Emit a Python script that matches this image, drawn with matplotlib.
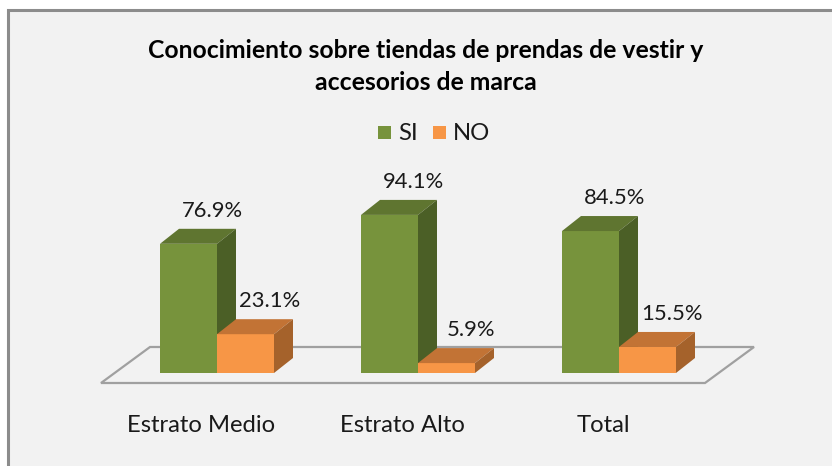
import matplotlib
matplotlib.use("Agg")
import matplotlib.pyplot as plt
from matplotlib.patches import Polygon, Rectangle

# ---------------- data ----------------
title_lines = ["Conocimiento sobre tiendas de prendas de vestir y", "accesorios de marca"]
categories = ["Estrato Medio", "Estrato Alto", "Total"]
series_names = ["SI", "NO"]
si_values = [76.9, 94.1, 84.5]
no_values = [23.1, 5.9, 15.5]
si_labels = ["76.9%", "94.1%", "84.5%"]
no_labels = ["23.1%", "5.9%", "15.5%"]

# ---------------- style ----------------
W, H = 832, 466
DPI = 100
PX_X = 201.0      # pixels per category unit
PX_Y = 1.68       # pixels per percent
X0_PX, Y0_PX = 217.0, 373.0   # pixel position of (0, 0)

green = dict(front="#77933C", top="#5F7530", side="#4B5F26")
orange = dict(front="#F79646", top="#C27335", side="#A5622B")
colors = [green, orange]
bg = "#F2F2F2"
FONT = "Lato"

fig = plt.figure(figsize=(W / DPI, H / DPI), dpi=DPI, facecolor="white")

def fx(x):
    return x / W

def fy(y):
    return 1 - y / H

# chart area with border (cropped at right and bottom)
fig.patches.append(Rectangle((fx(8), -0.05), 1.1, fy(10) + 0.05, transform=fig.transFigure,
                             facecolor=bg, edgecolor="#8C8C8C", linewidth=2.2, zorder=-5))

ax = fig.add_axes([0, 0, 1, 1])
ax.set_xlim(-X0_PX / PX_X, (W - X0_PX) / PX_X)
ax.set_ylim(-(H - Y0_PX) / PX_Y, Y0_PX / PX_Y)
ax.axis("off")
ax.patch.set_alpha(0)

bar_w = 57 / PX_X
dxb, dyb = 19 / PX_X, 15 / PX_Y       # bar depth offset
floor_front, floor_back = -10 / PX_Y, 26 / PX_Y
floor_left, floor_right = -116 / PX_X, 488 / PX_X
floor_dx = 49 / PX_X

# floor
ax.add_patch(Polygon([(floor_left, floor_front), (floor_right, floor_front),
                      (floor_right + floor_dx, floor_back), (floor_left + floor_dx, floor_back)],
                     closed=True, facecolor=bg, edgecolor="#A0A0A0", linewidth=1.6, zorder=1))

def bar3d(x, h, c, z):
    ax.add_patch(Polygon([(x, 0), (x + bar_w, 0), (x + bar_w, h), (x, h)],
                         facecolor=c["front"], edgecolor="none", zorder=z))
    ax.add_patch(Polygon([(x, h), (x + bar_w, h), (x + bar_w + dxb, h + dyb), (x + dxb, h + dyb)],
                         facecolor=c["top"], edgecolor="none", zorder=z))
    ax.add_patch(Polygon([(x + bar_w, 0), (x + bar_w + dxb, dyb), (x + bar_w + dxb, h + dyb), (x + bar_w, h)],
                         facecolor=c["side"], edgecolor="none", zorder=z))

fig.canvas.draw()
renderer = fig.canvas.get_renderer()

def fit(text_obj, target_px):
    fs = text_obj.get_fontsize()
    w = text_obj.get_window_extent(renderer).width
    return fs * target_px / w

# value label font
probe = fig.text(0, 0, si_labels[0], fontsize=14, family=FONT)
val_fs = fit(probe, 61)
probe.remove()

z = 2
for i, (cat, s, n) in enumerate(zip(categories, si_values, no_values)):
    for j, v in enumerate([s, n]):
        x = i - bar_w + j * bar_w
        bar3d(x, v, colors[j], z)
        z += 1
        lab = [si_labels, no_labels][j][i]
        ax.text(x + bar_w / 2 + 24 / PX_X, v + dyb + 18 / PX_Y, lab, ha="center", va="center",
                fontsize=val_fs, family=FONT, color="#1A1A1A", zorder=50)

# category labels
probe = fig.text(0, 0, categories[0], fontsize=14, family=FONT)
cat_fs = fit(probe, 149)
probe.remove()
for i, cat in enumerate(categories):
    ax.text(i - 16 / PX_X, -52 / PX_Y, cat, ha="center", va="center",
            fontsize=cat_fs, family=FONT, color="#1A1A1A")

# title
probe = fig.text(0, 0, title_lines[0], fontsize=14, family=FONT, fontweight="bold")
title_fs = fit(probe, 557)
probe.remove()
for k, line in enumerate(title_lines):
    fig.text(fx(426), fy(50 + 33 * k), line, ha="center", va="center",
             fontsize=title_fs, family=FONT, fontweight="bold", color="black")

# legend
leg_x = [378, 433]
for j, name in enumerate(series_names):
    fig.patches.append(Rectangle((fx(leg_x[j]), fy(139)), 13 / W, 13 / H, transform=fig.transFigure,
                                 facecolor=colors[j]["front"], edgecolor="none"))
    fig.text(fx(leg_x[j] + 20), fy(133), name, ha="left", va="center",
             fontsize=cat_fs, family=FONT, color="#1A1A1A")

fig.savefig("out.png", dpi=DPI, facecolor="white")
